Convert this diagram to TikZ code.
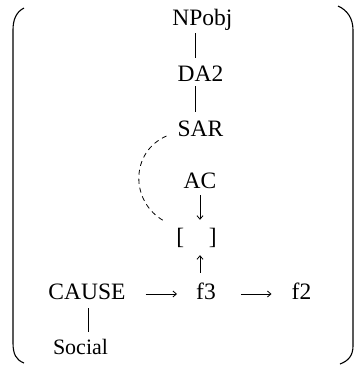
\documentclass[tikz,border=0pt]{standalone}
\usepackage{fontspec}
\setmainfont{Liberation Serif}
\usetikzlibrary{arrows.meta}
\begin{document}
\begin{tikzpicture}[x=1pt,y=-1pt,
  lbl/.style={inner sep=0pt, anchor=base, text height=16.5pt, text depth=5pt, font=\fontsize{23.5}{28}\selectfont},
  small/.style={lbl, font=\fontsize{22}{26}\selectfont},
  conn/.style={line width=0.8pt},
  arr/.style={line width=0.8pt, -{Straight Barb[length=3.5pt,width=6pt]}},
  dsh/.style={line width=0.8pt, dash pattern=on 5pt off 4pt},
  paren/.style={line width=1.1pt}]
\useasboundingbox (0,0) rectangle (355,365);
% labels
\node[lbl] (npobj) at (202.5,25) {NPobj};
\node[lbl] (da2) at (200.5,81) {DA2};
\node[lbl] (sar) at (200.5,136) {SAR};
\node[lbl] (ac) at (200,188) {AC};
\node[lbl] (br) at (196.5,244) {[\hspace{1.05em}]};
\node[lbl] (cause) at (87,299) {CAUSE};
\node[lbl] (f3) at (206,299) {f3};
\node[lbl] (f2) at (301.5,299) {f2};
\node[small] (social) at (80.5,354) {Social};
% vertical guides
\coordinate (vx) at (195,0);
\coordinate (ax) at (200,0);
\coordinate (sx) at (88,0);
% connectors
\draw[conn, shorten <=3pt, shorten >=6.5pt] (npobj.south -| vx) -- (da2.north -| vx);
\draw[conn, shorten <=0pt, shorten >=7.5pt] (da2.south -| vx) -- (sar.north -| vx);
\draw[arr, shorten <=2pt, shorten >=7.5pt] (ac.south -| ax) -- (br.north -| ax);
\draw[arr, shorten <=9.5pt, shorten >=6pt] (f3.north -| ax) -- (br.south -| ax);
\draw[arr, shorten <=20pt, shorten >=19pt] ([yshift=5pt]cause.base east) -- ([yshift=5pt]f3.base west);
\draw[arr, shorten <=25pt, shorten >=20pt] ([yshift=5pt]f3.base east) -- ([yshift=5pt]f2.base west);
\draw[conn, shorten <=4pt, shorten >=5.5pt] (cause.south -| sx) -- (social.north -| sx);
\draw[dsh] ([xshift=-11pt]sar.base west) .. controls (130,152) and (130,202) .. ([xshift=-12pt,yshift=23pt]br.base west);
% parentheses
\draw[paren] (24,8) .. controls (16,12) and (13,20) .. (13,30) -- (13,343) .. controls (13,354) and (16,360) .. (24,363);
\draw[paren] (338,6) .. controls (347,10) and (353,18) .. (353,30) -- (353,346) .. controls (353,356) and (348,361) .. (340,364);
\end{tikzpicture}
\end{document}
